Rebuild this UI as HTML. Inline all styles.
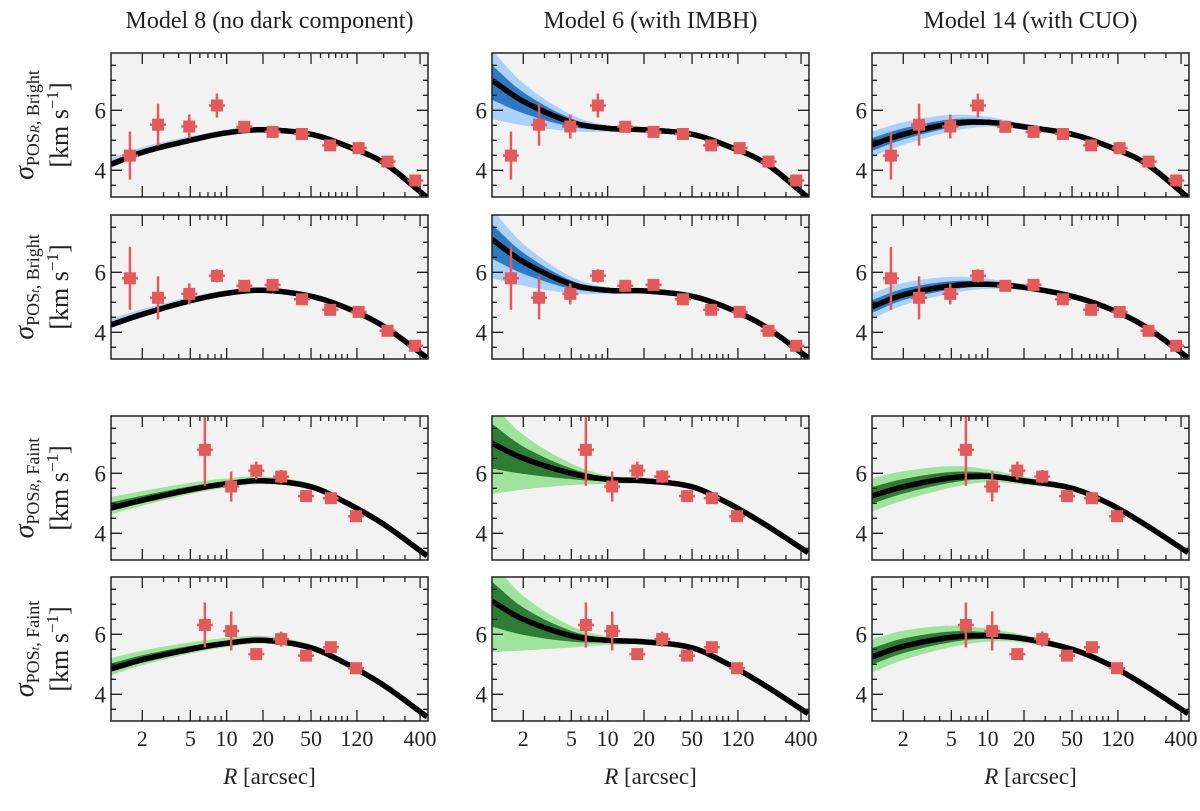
<!DOCTYPE html>
<html><head><meta charset="utf-8"><style>
html,body{margin:0;padding:0;background:#fff;}
svg text{font-family:"Liberation Serif",serif;fill:#222;}
</style></head><body>
<svg id="chart" width="1200" height="806" xmlns="http://www.w3.org/2000/svg"></svg>
<script>
const KNOT_R=[1.1,2,5,10,20,50,100,200,440];
const R_BRIGHT=[1.58,2.7,4.9,8.3,14,24,42,72,124,215,365];
const R_FAINT=[6.6,10.9,17.6,28.3,45.5,73,118];
const brightR_val=[4.49,5.52,5.46,6.16,5.45,5.28,5.21,4.83,4.74,4.29,3.66];
const brightR_err=[0.8,0.7,0.4,0.4,0.15,0.1,0.1,0.12,0.1,0.12,0.1];
const brightT_val=[5.8,5.15,5.28,5.88,5.55,5.58,5.1,4.75,4.68,4.05,3.55];
const brightT_err=[1.05,0.72,0.35,0.22,0.1,0.12,0.1,0.12,0.1,0.1,0.1];
const faintR_val=[6.78,5.56,6.09,5.89,5.24,5.17,4.57];
const faintR_err=[1.2,0.5,0.3,0.22,0.12,0.12,0.12];
const faintT_val=[6.31,6.11,5.34,5.84,5.29,5.57,4.87];
const faintT_err=[0.75,0.65,0.15,0.25,0.12,0.12,0.12];
const m8_bR=[4.2,4.6,5.0,5.25,5.35,5.2,4.8,4.25,3.15];
const m8_bT=[4.25,4.6,5.05,5.3,5.4,5.2,4.8,4.2,3.2];
const m8_fR=[4.85,5.1,5.45,5.65,5.75,5.55,5.0,4.3,3.3];
const m8_fT=[4.85,5.15,5.5,5.7,5.8,5.55,5.0,4.3,3.3];
const m6_bR=[7.0,6.3,5.6,5.4,5.35,5.2,4.8,4.25,3.15];
const m6_bT=[7.1,6.35,5.6,5.4,5.38,5.2,4.8,4.2,3.2];
const m6_fR=[7.0,6.5,6.0,5.8,5.75,5.55,5.0,4.3,3.4];
const m6_fT=[7.1,6.5,5.95,5.8,5.75,5.55,5.0,4.3,3.4];
const m14_bR=[4.85,5.2,5.55,5.6,5.45,5.2,4.8,4.25,3.15];
const m14_bT=[4.85,5.25,5.55,5.6,5.5,5.2,4.8,4.2,3.2];
const m14_fR=[5.25,5.55,5.85,5.9,5.75,5.5,5.0,4.3,3.4];
const m14_fT=[5.25,5.6,5.9,5.95,5.85,5.5,5.0,4.3,3.4];
const m8_lightHi=[0.2,0.17,0.13,0.1,0.08,0.06,0.05,0.05,0.05];
const m8_lightLo=[0.12,0.1,0.08,0.07,0.06,0.05,0.05,0.05,0.05];
const m6_lightHi=[1.0,0.6,0.25,0.1,0.06,0.05,0.05,0.05,0.05];
const m6_lightLo=[1.3,0.8,0.3,0.12,0.08,0.05,0.05,0.05,0.05];
const m14_lightHi=[0.45,0.4,0.3,0.18,0.1,0.07,0.05,0.05,0.05];
const m14_lightLo=[0.4,0.35,0.25,0.15,0.1,0.07,0.05,0.05,0.05];

const NS='http://www.w3.org/2000/svg';
const svg=document.getElementById('chart');
function mk(tag,attrs,parent){const e=document.createElementNS(NS,tag);for(const k in attrs)e.setAttribute(k,attrs[k]);(parent||svg).appendChild(e);return e;}

const COLS=[111,492,872], ROWS=[53,215,416,577], PW=317, PH=144;
const VTOP=7.91, PPU=30, DEC=120.7;
function xs(c,R){return COLS[c]+31.3+DEC*Math.log10(R/2);}
function ys(r,v){return ROWS[r]+(VTOP-v)*PPU;}
function interp(knots,vals,R){
  const L=knots.map(k=>Math.log10(k)),t=Math.log10(R),n=L.length;
  let i=0;while(i<n-2&&t>L[i+1])i++;
  const h=L[i+1]-L[i],s=(t-L[i])/h;
  const sl=j=>{if(j===0)return (vals[1]-vals[0])/(L[1]-L[0]);if(j===n-1)return (vals[n-1]-vals[n-2])/(L[n-1]-L[n-2]);return (vals[j+1]-vals[j-1])/(L[j+1]-L[j-1]);};
  const m0=sl(i)*h,m1=sl(i+1)*h,s2=s*s,s3=s2*s;
  return (2*s3-3*s2+1)*vals[i]+(s3-2*s2+s)*m0+(-2*s3+3*s2)*vals[i+1]+(s3-s2)*m1;
}
function Rat(c,x){return 2*Math.pow(10,(x-COLS[c]-31.3)/DEC);}

const curves=[[m8_bR,m6_bR,m14_bR],[m8_bT,m6_bT,m14_bT],[m8_fR,m6_fR,m14_fR],[m8_fT,m6_fT,m14_fT]];
const bandsHi=[m8_lightHi,m6_lightHi,m14_lightHi], bandsLo=[m8_lightLo,m6_lightLo,m14_lightLo];
const pts=[[R_BRIGHT,brightR_val,brightR_err],[R_BRIGHT,brightT_val,brightT_err],[R_FAINT,faintR_val,faintR_err],[R_FAINT,faintT_val,faintT_err]];
const titles=['Model 8 (no dark component)','Model 6 (with IMBH)','Model 14 (with CUO)'];
const subs=['POS<tspan font-style="italic" font-size="13">R</tspan>, Bright','POS<tspan font-style="italic" font-size="13">t</tspan>, Bright','POS<tspan font-style="italic" font-size="13">R</tspan>, Faint','POS<tspan font-style="italic" font-size="13">t</tspan>, Faint'];
const majX=[2,5,10,20,50,120,400];
const minX=[3,4,6,7,8,9,30,40,60,70,80,90,100,200,300];

const defs=mk('defs',{});
for(let c=0;c<3;c++){
  const t=mk('text',{x:COLS[c]+PW/2,y:28,'text-anchor':'middle','font-size':24});
  t.textContent=titles[c];
  
  
  const xl=mk('text',{x:COLS[c]+PW/2,y:784,'text-anchor':'middle','font-size':23});
  xl.innerHTML='<tspan font-style="italic">R</tspan> [arcsec]';
  
  
}
for(let r=0;r<4;r++){
  const cy=ROWS[r]+PH/2;
  const yl=mk('text',{transform:`translate(33,${cy}) rotate(-90)`,'text-anchor':'middle','font-size':28});
  yl.innerHTML='<tspan font-style="italic">σ</tspan><tspan font-size="18" dy="6">'+subs[r]+'</tspan>';
  
  
  const yu=mk('text',{transform:`translate(68,${cy}) rotate(-90)`,'text-anchor':'middle','font-size':26});
  yu.innerHTML='[km s<tspan font-size="17" dy="-10">−1</tspan><tspan dy="10">]</tspan>';
  
  
  const faint=r>=2;
  const light=faint?'#9fe39c':'#a9d1fa', dark=faint?'#2f7d34':'#2e79c4';
  for(let c=0;c<3;c++){
    const x0=COLS[c],y0=ROWS[r];
    const g=mk('g',{});
    
    
    const cp=mk('clipPath',{id:'cp'+r+c},defs);mk('rect',{x:x0,y:y0,width:PW,height:PH},cp);
    mk('rect',{x:x0,y:y0,width:PW,height:PH,fill:'#f2f2f2'},g);
    const inner=mk('g',{'clip-path':`url(#cp${r}${c})`},g);
    const cv=curves[r][c],hi=bandsHi[c],lo=bandsLo[c],fac=faint?(c===0?1.8:1.3):1;
    const mkBand=(k,name,col)=>{let up=[],dn=[];
      for(let x=x0;x<=x0+PW;x+=2){const R=Rat(c,x),v=interp(KNOT_R,cv,R);
        up.push(x+','+ys(r,v+k*fac*interp(KNOT_R,hi,R)).toFixed(1));
        dn.unshift(x+','+ys(r,v-k*fac*interp(KNOT_R,lo,R)).toFixed(1));}
      const p=mk('polygon',{points:up.concat(dn).join(' '),fill:col},inner);
      
      };
    mkBand(1,'band-outer',light);mkBand(0.5,'band-inner',dark);
    let d='';for(let x=x0;x<=x0+PW;x+=2){const v=interp(KNOT_R,cv,Rat(c,x));d+=(d?'L':'M')+x+','+ys(r,v).toFixed(1);}
    const ln=mk('path',{d:d,fill:'none',stroke:'#000','stroke-width':5.5},inner);
    
    
    const [PR,PV,PE]=pts[r];
    for(let i=0;i<PR.length;i++){
      const px=xs(c,PR[i]),py=ys(r,PV[i]);
      const eb=mk('line',{x1:px,x2:px,y1:ys(r,PV[i]+PE[i]),y2:ys(r,PV[i]-PE[i]),stroke:'#e35a5a','stroke-width':2.5},inner);
      
      
      const hb=mk('line',{x1:px-8,x2:px+8,y1:py,y2:py,stroke:'#e35a5a','stroke-width':2.5},inner);
      
      
      const m=mk('rect',{x:px-6,y:py-6,width:12,height:12,fill:'#e35a5a'},inner);
      
      
    }
    let td='';
    majX.forEach(R=>{const x=xs(c,R);td+=`M${x},${y0}v11M${x},${y0+PH}v-11`;});
    minX.forEach(R=>{const x=xs(c,R);td+=`M${x},${y0}v5M${x},${y0+PH}v-5`;});
    for(let v=3.5;v<7.9;v+=0.5){const y=ys(r,v),L=(v===4||v===6)?11:5;td+=`M${x0},${y}h${L}M${x0+PW},${y}h${-L}`;}
    mk('path',{d:td,stroke:'#222','stroke-width':1.3,fill:'none'},g);
    mk('rect',{x:x0,y:y0,width:PW,height:PH,fill:'none',stroke:'#222','stroke-width':1.5},g);
    [4,6].forEach(v=>{const t=mk('text',{x:x0-5,y:ys(r,v)+8,'text-anchor':'end','font-size':23},g);t.textContent=v;
      
      });
    if(r===3){majX.forEach(R=>{const t=mk('text',{x:xs(c,R),y:y0+PH+25,'text-anchor':'middle','font-size':22},g);t.textContent=R;
      
      });}
  }
}
</script>
</body></html>
